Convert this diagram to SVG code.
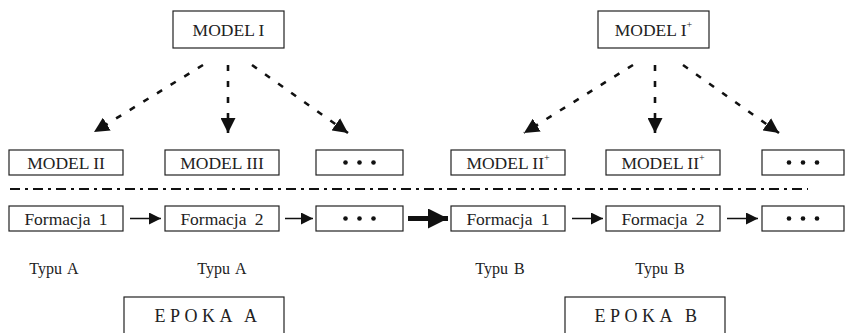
<svg xmlns="http://www.w3.org/2000/svg" width="845" height="333" viewBox="0 0 845 333">
<style>
.box{fill:#fff;stroke:#222;stroke-width:1.2}
.t{font-family:"Liberation Serif","DejaVu Serif",serif;font-size:17.5px;fill:#222;text-anchor:middle}
.ty{font-family:"Liberation Serif","DejaVu Serif",serif;font-size:16px;fill:#222;text-anchor:middle;word-spacing:2px}
.ep{font-family:"Liberation Serif","DejaVu Serif",serif;font-size:18px;fill:#222;text-anchor:middle;letter-spacing:4.5px}
.dash{stroke:#111;stroke-width:2.6;stroke-dasharray:6 10;fill:none}
.dd{stroke:#111;stroke-width:2;stroke-dasharray:10 5 3 5;fill:none}
.sa{stroke:#111;stroke-width:1.5;fill:none}
.dot{fill:#111}
</style>
<defs>
<marker id="ah" viewBox="0 0 10 10" refX="10" refY="5" markerWidth="15" markerHeight="15" markerUnits="userSpaceOnUse" orient="auto"><path d="M0,0 L10,5 L0,10 z" fill="#111"/></marker>
<marker id="ahs" viewBox="0 0 10 10" refX="10" refY="5" markerWidth="12" markerHeight="12" markerUnits="userSpaceOnUse" orient="auto"><path d="M0,0 L10,5 L0,10 z" fill="#111"/></marker>
<marker id="ahb" viewBox="0 0 10 10" refX="10" refY="5" markerWidth="20" markerHeight="20" markerUnits="userSpaceOnUse" orient="auto"><path d="M0,0 L10,5 L0,10 z" fill="#111"/></marker>
<g id="dots3"><circle cx="-14" cy="0" r="2.3"/><circle cx="0" cy="0" r="2.3"/><circle cx="14" cy="0" r="2.3"/></g>
</defs>

<g id="connectors">
<line class="dash" x1="203" y1="65" x2="94" y2="132" marker-end="url(#ah)"/>
<line class="dash" x1="228" y1="65" x2="228" y2="133" marker-end="url(#ah)"/>
<line class="dash" x1="252" y1="65" x2="348" y2="133" marker-end="url(#ah)"/>
<line class="dash" x1="633" y1="65" x2="524" y2="133" marker-end="url(#ah)"/>
<line class="dash" x1="655" y1="65" x2="655" y2="133" marker-end="url(#ah)"/>
<line class="dash" x1="683" y1="65" x2="779" y2="133" marker-end="url(#ah)"/>
<line class="dd" x1="10" y1="189" x2="808" y2="189"/>
<line class="sa" x1="130" y1="218.5" x2="161" y2="218.5" marker-end="url(#ahs)"/>
<line class="sa" x1="285" y1="218.5" x2="313" y2="218.5" marker-end="url(#ahs)"/>
<line x1="408" y1="218.5" x2="448" y2="218.5" stroke="#111" stroke-width="5" marker-end="url(#ahb)"/>
<line class="sa" x1="572" y1="218.5" x2="603" y2="218.5" marker-end="url(#ahs)"/>
<line class="sa" x1="727" y1="218.5" x2="758" y2="218.5" marker-end="url(#ahs)"/>
</g>

<g id="model1"><rect class="box" x="173" y="11" width="111" height="37"/><text class="t" x="228.5" y="36">MODEL I</text></g>
<g id="model1plus"><rect class="box" x="598" y="11" width="111" height="37"/><text class="t" x="653.5" y="36">MODEL I<tspan font-size="10" dy="-8">+</tspan></text></g>

<g id="model2"><rect class="box" x="9" y="150" width="114" height="25"/><text class="t" x="66" y="168.5">MODEL II</text></g>
<g id="model3"><rect class="box" x="165" y="150" width="114" height="25"/><text class="t" x="222" y="168.5">MODEL III</text></g>
<g id="dotsA1"><rect class="box" x="316" y="150" width="87" height="25"/><use href="#dots3" class="dot" x="359.5" y="162.5"/></g>
<g id="model2plusA"><rect class="box" x="451" y="150" width="114" height="25"/><text class="t" x="508" y="168.5">MODEL II<tspan font-size="10" dy="-8">+</tspan></text></g>
<g id="model2plusB"><rect class="box" x="606" y="150" width="114" height="25"/><text class="t" x="663" y="168.5">MODEL II<tspan font-size="10" dy="-8">+</tspan></text></g>
<g id="dotsB1"><rect class="box" x="762" y="150" width="82" height="25"/><use href="#dots3" class="dot" x="803" y="162.5"/></g>

<g id="formA1"><rect class="box" x="9" y="206" width="114" height="25"/><text class="t" x="66" y="224.5" word-spacing="4">Formacja 1</text></g>
<g id="formA2"><rect class="box" x="165" y="206" width="114" height="25"/><text class="t" x="222" y="224.5" word-spacing="4">Formacja 2</text></g>
<g id="dotsA2"><rect class="box" x="316" y="206" width="87" height="25"/><use href="#dots3" class="dot" x="359.5" y="218.5"/></g>
<g id="formB1"><rect class="box" x="451" y="206" width="114" height="25"/><text class="t" x="508" y="224.5" word-spacing="4">Formacja 1</text></g>
<g id="formB2"><rect class="box" x="606" y="206" width="114" height="25"/><text class="t" x="663" y="224.5" word-spacing="4">Formacja 2</text></g>
<g id="dotsB2"><rect class="box" x="762" y="206" width="82" height="25"/><use href="#dots3" class="dot" x="803" y="218.5"/></g>

<g id="labels">
<text class="ty" x="54" y="274">Typu A</text>
<text class="ty" x="222" y="274">Typu A</text>
<text class="ty" x="500" y="274">Typu B</text>
<text class="ty" x="660" y="274">Typu B</text>
</g>

<g id="epokaA"><rect class="box" x="124" y="297" width="160" height="45"/><text class="ep" x="208" y="322">EPOKA  A</text></g>
<g id="epokaB"><rect class="box" x="565" y="297" width="160" height="45"/><text class="ep" x="648" y="322">EPOKA  B</text></g>
</svg>
